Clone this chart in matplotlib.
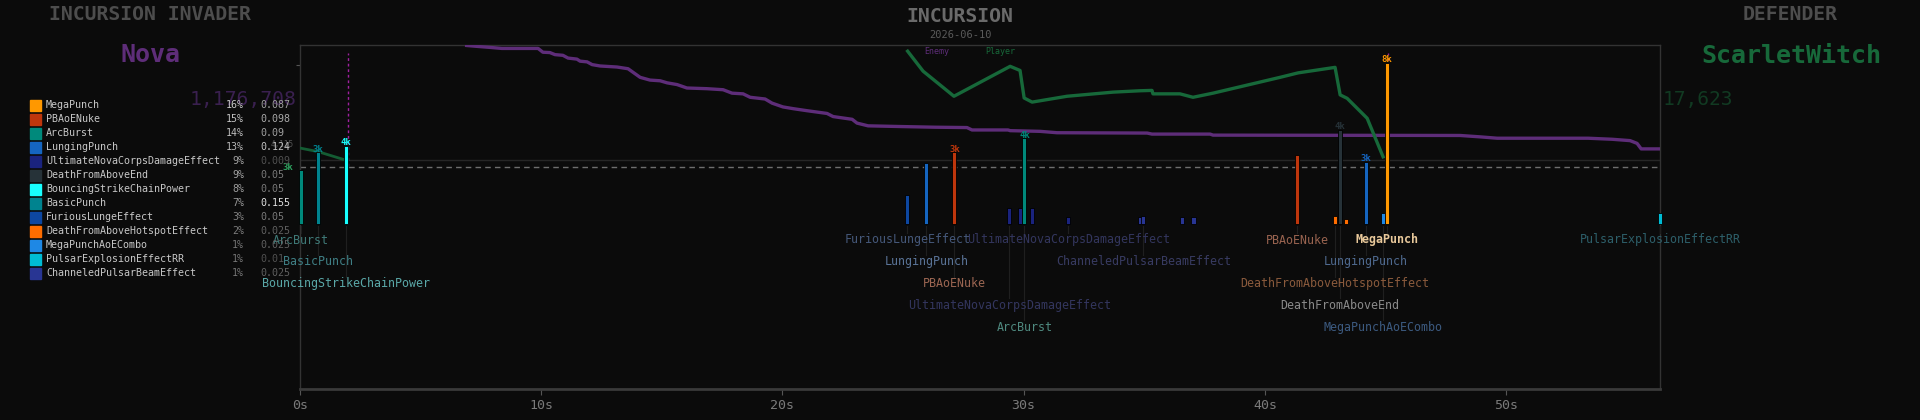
import numpy as np
import matplotlib
matplotlib.use("Agg")
import matplotlib.pyplot as plt
import matplotlib.transforms as mtransforms
from matplotlib.patches import Rectangle

plt.rcParams["font.family"] = ["DejaVu Sans Mono", "DejaVu Sans"]

# legend / ability summary
abilities = ["MegaPunch", "PBAoENuke", "ArcBurst", "LungingPunch",
             "UltimateNovaCorpsDamageEffect", "DeathFromAboveEnd",
             "BouncingStrikeChainPower", "BasicPunch", "FuriousLungeEffect",
             "DeathFromAboveHotspotEffect", "MegaPunchAoECombo",
             "PulsarExplosionEffectRR", "ChanneledPulsarBeamEffect"]
share_pct = [16, 15, 14, 13, 9, 9, 8, 7, 3, 2, 1, 1, 1]
share_val = [0.087, 0.098, 0.09, 0.124, 0.009, 0.05, 0.05, 0.155, 0.05, 0.025, 0.025, 0.01, 0.025]

# individual hits (time in s, damage)
hit_time = [0.03, 0.75, 1.90, 25.18, 25.97, 27.13, 29.41, 29.86, 30.03, 30.36, 31.85,
            34.83, 34.96, 36.58, 37.04, 41.33, 42.90, 43.12, 43.37, 44.20, 44.90, 45.05, 56.38]
hit_ability = ["ArcBurst", "BasicPunch", "BouncingStrikeChainPower", "FuriousLungeEffect",
               "LungingPunch", "PBAoENuke", "UltimateNovaCorpsDamageEffect",
               "UltimateNovaCorpsDamageEffect", "ArcBurst", "UltimateNovaCorpsDamageEffect",
               "UltimateNovaCorpsDamageEffect", "ChanneledPulsarBeamEffect",
               "ChanneledPulsarBeamEffect", "ChanneledPulsarBeamEffect",
               "ChanneledPulsarBeamEffect", "PBAoENuke", "DeathFromAboveHotspotEffect",
               "DeathFromAboveEnd", "DeathFromAboveHotspotEffect", "LungingPunch",
               "MegaPunchAoECombo", "MegaPunch", "PulsarExplosionEffectRR"]
hit_dmg = [2700, 3580, 3890, 1480, 3050, 3580, 820, 820, 4280, 820, 370,
           370, 440, 370, 370, 3440, 420, 4680, 270, 3100, 570, 8000, 570]
hit_peak = ["", "3k", "4k", "", "", "3k", "", "", "4k", "", "",
            "", "", "", "", "", "", "4k", "", "3k", "", "8k", ""]

# hp traces (%)
enemy_t = [6.84, 7.34, 7.88, 8.37, 9.87, 10.07, 10.36, 10.57, 10.90, 11.11, 11.48, 11.61,
           11.90, 12.11, 12.44, 13.14, 13.60, 14.10, 14.51, 14.93, 15.22, 15.63, 16.04,
           16.87, 17.54, 17.91, 18.37, 18.66, 19.28, 19.57, 20.02, 20.44, 21.02, 21.85,
           22.10, 22.39, 22.89, 23.09, 23.55, 24.88, 26.33, 27.65, 27.86, 29.35, 29.44,
           30.68, 31.38, 35.12, 35.32, 37.73, 37.85, 48.09, 48.92, 49.63, 53.40, 54.39,
           55.14, 55.43, 55.60, 56.38]
enemy_hp = [99.9, 99.6, 99.3, 99.0, 99.0, 97.9, 97.8, 97.2, 97.0, 96.2, 95.9, 95.3,
            95.1, 94.3, 93.9, 93.6, 93.1, 90.6, 89.8, 89.6, 89.0, 88.5, 87.5,
            87.3, 87.0, 86.0, 85.8, 84.8, 84.3, 83.1, 82.0, 81.5, 80.9, 80.1,
            79.2, 78.9, 78.4, 77.3, 76.5, 76.3, 76.1, 76.0, 75.3, 75.3, 75.1,
            74.9, 74.5, 74.4, 74.1, 74.1, 73.8, 73.7, 73.3, 72.9, 72.9, 72.6,
            72.2, 71.4, 69.8, 69.8]
player_t1 = [0.03, 0.75, 1.77]
player_hp1 = [70.0, 69.0, 66.8]
player_t2 = [25.19, 25.83, 27.11, 29.44, 29.85, 30.02, 30.35, 31.80, 33.71, 34.83, 35.32,
             35.36, 36.48, 37.02, 37.85, 40.63, 41.38, 42.91, 43.12, 43.41, 44.24, 44.90]
player_hp2 = [98.2, 92.4, 85.1, 93.8, 92.6, 84.6, 83.4, 85.1, 86.3, 86.7, 86.8,
              85.8, 85.8, 84.8, 86.0, 90.6, 91.9, 93.5, 85.5, 84.5, 78.7, 67.5]
kill_times = [1.99, 45.1]
avg_line = 2870
x_ticks = [0, 10, 20, 30, 40, 50]

# styling
BG = "#0b0b0b"
ability_colors = {
    "MegaPunch": "#ff9800", "PBAoENuke": "#bf360c", "ArcBurst": "#00897b",
    "LungingPunch": "#1565c0", "UltimateNovaCorpsDamageEffect": "#1a237e",
    "DeathFromAboveEnd": "#263238", "BouncingStrikeChainPower": "#18ffff",
    "BasicPunch": "#00838f", "FuriousLungeEffect": "#0d47a1",
    "DeathFromAboveHotspotEffect": "#ff6d00", "MegaPunchAoECombo": "#1e88e5",
    "PulsarExplosionEffectRR": "#00bcd4", "ChanneledPulsarBeamEffect": "#283593"}
label_rows = [1, 2, 3, 1, 2, 3, 4, 0, 5, 0, 1, 0, 2, 0, 0, 1, 3, 4, 0, 2, 5, 1, 1]
label_colors = ["#3f7a78", "#3f7f85", "#5aa8a8", "#45587a", "#5a7498", "#9c6652", "#33365e",
                None, "#4f8a80", None, "#33365e", None, "#383b62", None, None, "#9a6450",
                "#8a5a3c", "#8a8a8a", None, "#4f6a90", "#3c5a80", "#e8c89a", "#2d5f6a"]
PURPLE = "#5e2d79"
GREEN = "#17693a"

W, H = 1920, 420
fig = plt.figure(figsize=(W / 100, H / 100), dpi=100, facecolor=BG)

# main axes: x in seconds, y in thousands of damage
ax = fig.add_axes([300 / W, 1 - 389 / H, 1360 / W, 344 / H])
ax.set_facecolor(BG)
ax.set_xlim(0, 56.38)
ax.set_ylim(-8.15, 8.89)
for s in ["top", "left", "right"]:
    ax.spines[s].set_color("#333333")
    ax.spines[s].set_linewidth(1)
ax.spines["bottom"].set_color("#3a3a3a")
ax.spines["bottom"].set_linewidth(2)
ax.set_xticks(x_ticks)
ax.set_xticklabels([f"{t}s" for t in x_ticks])
ax.set_yticks([7.9])
ax.set_yticklabels([""])
ax.tick_params(axis="x", colors="#555555", labelcolor="#7a7a7a", labelsize=9.5,
               length=4, pad=3)
ax.tick_params(axis="y", colors="#555555", length=3)

ax.axhline(3.19, color="#262626", lw=1, zorder=1)
ax.axhline(avg_line / 1000, color="#6e6e6e", lw=1, ls=(0, (4, 3)), zorder=1)

# hp traces
ax2 = ax.twinx()
ax2.set_ylim(0, 100)
ax2.axis("off")
ax2.plot(enemy_t, enemy_hp, color=PURPLE, lw=2.4, solid_capstyle="butt")
ax2.plot(player_t1, player_hp1, color="#145c33", lw=2)
ax2.plot(player_t2, player_hp2, color=GREEN, lw=2.4)

for kt in kill_times:
    ax.axvline(kt, ymin=0.648, ymax=0.977, color="#a020a0", lw=1, ls=(0, (2, 2)), zorder=3)

# hits on top
ax3 = ax.twinx()
ax3.set_ylim(ax.get_ylim())
ax3.axis("off")
dmg_k = np.array(hit_dmg) / 1000
bars = ax3.bar(hit_time, dmg_k, width=0.17,
               color=[ability_colors[a] for a in hit_ability],
               edgecolor="#000000", linewidth=0.6, zorder=4)
for b in bars:
    b.set_clip_on(False)

for t, v, pk, a in zip(hit_time, dmg_k, hit_peak, hit_ability):
    if pk:
        ax3.text(t, v + 0.15, pk, ha="center", va="center", fontsize=6.5,
                 fontweight="bold", color=ability_colors[a], zorder=6)

# overlay in pixel coordinates
ov = fig.add_axes([0, 0, 1, 1], zorder=5)
ov.set_xlim(0, W)
ov.set_ylim(H, 0)
ov.axis("off")
tr = mtransforms.blended_transform_factory(ax.transData, ov.transData)

for t, a, row, col in zip(hit_time, hit_ability, label_rows, label_colors):
    if row == 0:
        continue
    ry = 240 + (row - 1) * 21.8
    ov.plot([t, t], [226, ry - 7], transform=tr, color="#1f1f1f", lw=0.8, zorder=1)
    ov.text(t, ry, a, transform=tr, ha="center", va="center", fontsize=8.4,
            color=col, zorder=3,
            fontweight="bold" if a == "MegaPunch" and row == 1 else "normal")

ov.text(293, 167, "3k", ha="right", va="center", fontsize=6.5, fontweight="bold",
        color="#2ea35f")
ov.text(294, 144, "4,115", ha="right", va="center", fontsize=5.5, color="#555555")

# headers
ov.text(150, 15, "INCURSION INVADER", ha="center", va="center", fontsize=14.2,
        fontweight="bold", color="#4d4d4d")
ov.text(150, 55, "Nova", ha="center", va="center", fontsize=18, fontweight="bold",
        color=PURPLE)
ov.text(297, 99, "1,176,708", ha="right", va="center", fontsize=14.2, color="#3a2050")
ov.text(960, 17, "INCURSION", ha="center", va="center", fontsize=14.2,
        fontweight="bold", color="#6a6a6a")
ov.text(960, 35.5, "2026-06-10", ha="center", va="center", fontsize=7.5, color="#5a5a5a")
ov.text(937, 51.5, "Enemy", ha="center", va="center", fontsize=6, color=PURPLE)
ov.text(1000, 51.5, "Player", ha="center", va="center", fontsize=6, color=GREEN)
ov.text(1790, 15, "DEFENDER", ha="center", va="center", fontsize=14.2,
        fontweight="bold", color="#4d4d4d")
ov.text(1791, 56, "ScarletWitch", ha="center", va="center", fontsize=18,
        fontweight="bold", color=GREEN)
ov.text(1663, 99, "17,623", ha="left", va="center", fontsize=14, color="#113a22")

# legend
for i, (name, pct, val) in enumerate(zip(abilities, share_pct, share_val)):
    y = 105 + 14 * i
    ov.add_patch(Rectangle((30, y - 5.5), 11, 11, color=ability_colors[name]))
    ov.text(46, y, name, ha="left", va="center", fontsize=7.2, color="#c8c8c8")
    g = int(0x70 + pct / 16 * (0xc8 - 0x70))
    ov.text(244, y, f"{pct}%", ha="right", va="center", fontsize=7.2,
            color=f"#{g:02x}{g:02x}{g:02x}")
    g = int(0x48 + val / 0.155 * (0xe0 - 0x48))
    ov.text(260, y, f"{val:g}", ha="left", va="center", fontsize=7.2,
            color=f"#{g:02x}{g:02x}{g:02x}")

fig.savefig("out.png", dpi=100, facecolor=BG)
